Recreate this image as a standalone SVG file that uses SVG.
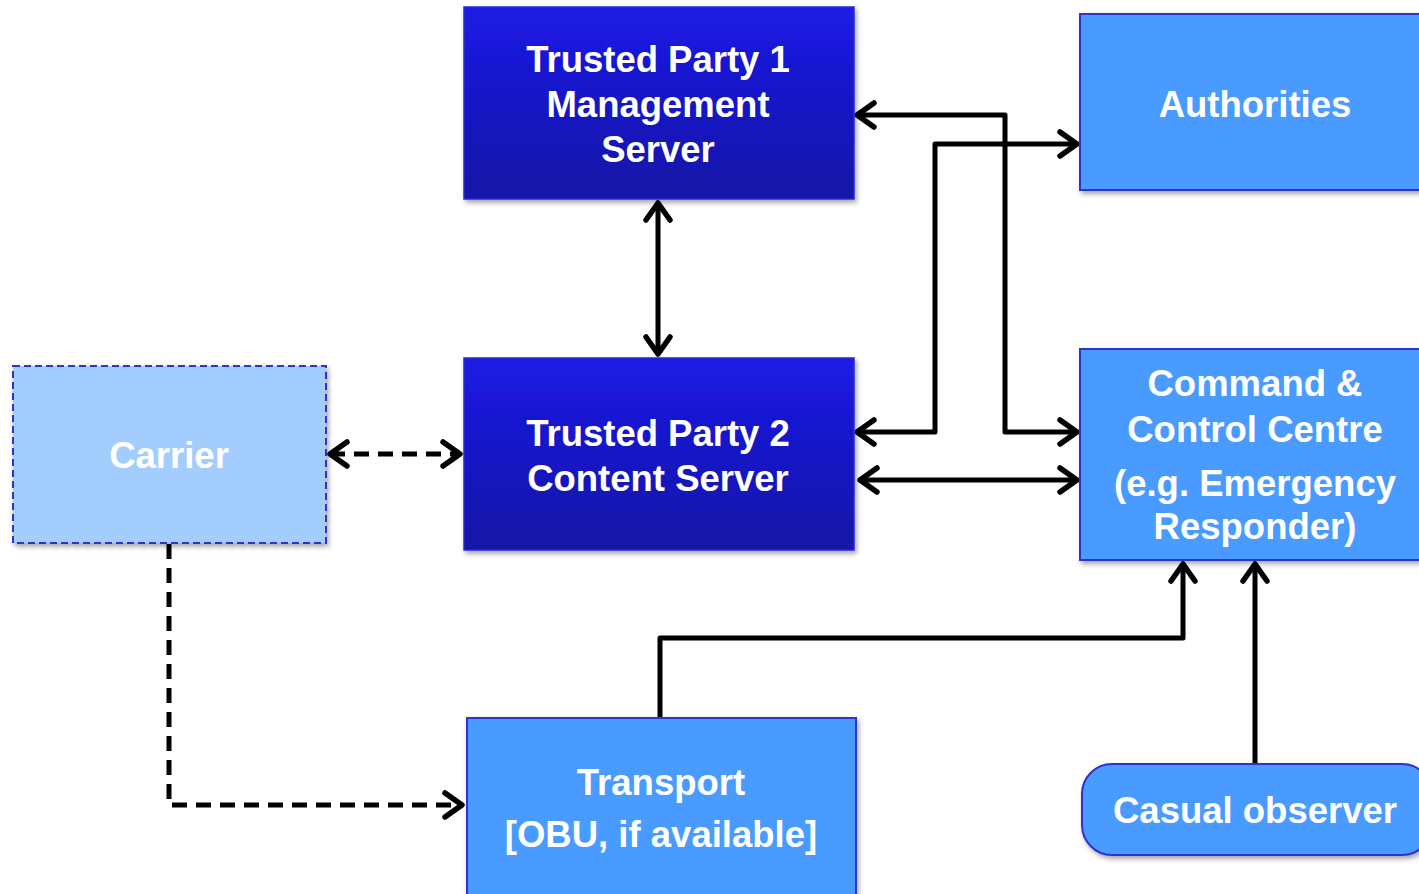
<svg xmlns="http://www.w3.org/2000/svg" width="1419" height="894" viewBox="0 0 1419 894">
  <style>
    .label { font-family: "Liberation Sans", Arial, sans-serif; font-weight: bold; font-size: 36.5px; fill: #ffffff; text-anchor: middle; }
    .server { fill: url(#serverFill); stroke: #2a2ad8; stroke-width: 1.5; filter: url(#shadow); }
    .actor { fill: #4a9bff; stroke: #3030c8; stroke-width: 2; filter: url(#shadow); }
    .optional { fill: #a3cdfd; stroke: #3030c8; stroke-width: 2; stroke-dasharray: 7 4; filter: url(#shadow); }
    .link { fill: none; stroke: #000000; stroke-width: 5; stroke-linejoin: round; }
    .dashed { stroke-dasharray: 15 9; }
  </style>
  <defs>
    <linearGradient id="serverFill" x1="0" y1="0" x2="0" y2="1">
      <stop offset="0" stop-color="#1b1be6"/>
      <stop offset="1" stop-color="#1512a6"/>
    </linearGradient>
    <filter id="shadow" x="-10%" y="-10%" width="125%" height="130%">
      <feDropShadow dx="2" dy="3" stdDeviation="2.5" flood-color="#000000" flood-opacity="0.35"/>
    </filter>
    <marker id="chevron" viewBox="-22 -15 26 30" refX="0" refY="0" markerWidth="26" markerHeight="30" markerUnits="userSpaceOnUse" orient="auto-start-reverse">
      <path d="M -17 -12 L 0 0 L -17 12" fill="none" stroke="#000000" stroke-width="5.5" stroke-linecap="round" stroke-linejoin="round"/>
    </marker>
  </defs>

  <rect width="1419" height="894" fill="#ffffff"/>

  <!-- connectors -->
  <g id="connectors">
    <line class="link" x1="658" y1="203" x2="658" y2="354" marker-start="url(#chevron)" marker-end="url(#chevron)"/>
    <line class="link dashed" x1="330" y1="454" x2="460" y2="454" marker-start="url(#chevron)" marker-end="url(#chevron)"/>
    <polyline class="link" points="857,115 1005,115 1005,432 1077,432" marker-start="url(#chevron)" marker-end="url(#chevron)"/>
    <polyline class="link" points="857,432 935,432 935,144 1077,144" marker-start="url(#chevron)" marker-end="url(#chevron)"/>
    <line class="link" x1="860" y1="480" x2="1077" y2="480" marker-start="url(#chevron)" marker-end="url(#chevron)"/>
    <polyline class="link" points="660,718 660,638 1183,638 1183,564" marker-end="url(#chevron)"/>
    <line class="link" x1="1255" y1="764" x2="1255" y2="564" marker-end="url(#chevron)"/>
    <polyline class="link dashed" points="169,544 169,805 462,805" marker-end="url(#chevron)"/>
  </g>

  <!-- Trusted Party 1 -->
  <g id="trusted-party-1">
    <rect class="server" x="464" y="7" width="390" height="192"/>
    <text class="label" x="658" y="72">Trusted Party 1</text>
    <text class="label" x="658" y="117">Management</text>
    <text class="label" x="658" y="162">Server</text>
  </g>

  <!-- Trusted Party 2 -->
  <g id="trusted-party-2">
    <rect class="server" x="464" y="358" width="390" height="192"/>
    <text class="label" x="658" y="446">Trusted Party 2</text>
    <text class="label" x="658" y="491">Content Server</text>
  </g>

  <!-- Authorities -->
  <g id="authorities">
    <rect class="actor" x="1080" y="14" width="352" height="176"/>
    <text class="label" x="1255" y="117">Authorities</text>
  </g>

  <!-- Command & Control Centre -->
  <g id="command-control">
    <rect class="actor" x="1080" y="349" width="352" height="211"/>
    <text class="label" x="1255" y="396">Command &amp;</text>
    <text class="label" x="1255" y="442">Control Centre</text>
    <text class="label" x="1255" y="496">(e.g. Emergency</text>
    <text class="label" x="1255" y="539">Responder)</text>
  </g>

  <!-- Carrier -->
  <g id="carrier">
    <rect class="optional" x="13" y="366" width="313" height="177"/>
    <text class="label" x="169" y="468">Carrier</text>
  </g>

  <!-- Transport -->
  <g id="transport">
    <rect class="actor" x="467" y="718" width="389" height="190"/>
    <text class="label" x="661" y="795">Transport</text>
    <text class="label" x="661" y="847">[OBU, if available]</text>
  </g>

  <!-- Casual observer -->
  <g id="casual-observer">
    <rect class="actor" x="1082" y="764" width="350" height="91" rx="30" ry="30"/>
    <text class="label" x="1255" y="823">Casual observer</text>
  </g>
</svg>
